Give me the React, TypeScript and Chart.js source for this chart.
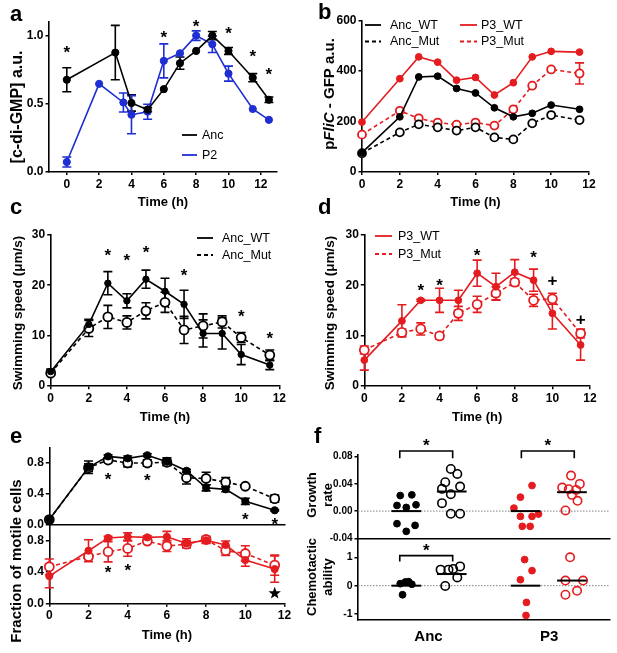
import React, { useEffect, useRef } from 'react';
import { Chart, registerables } from 'chart.js';

Chart.register(...registerables);

const PAGE_W = 617;
const PAGE_H = 653;
const FONT = '"Liberation Sans", Arial, Helvetica, sans-serif';
const INK = '#000000';
const BLUE = '#1f2ed2';
const RED = '#e41c1f';

// ---------------- data ----------------
// panel a
const aHoursAnc = [0, 3, 4, 5, 6, 7, 8, 9, 10, 11.5, 12.5];
const aAnc = [0.675, 0.875, 0.504, 0.455, 0.606, 0.797, 0.887, 1.0, 0.887, 0.69, 0.528];
const aAncErr = [0.088, 0.2, 0.06, 0.015, 0, 0.045, 0, 0.03, 0.025, 0.03, 0.02];
const aHoursP2 = [0, 2, 3.5, 4, 5, 6, 7, 8, 9, 10, 11.5, 12.5];
const aP2 = [0.07, 0.645, 0.508, 0.418, 0.44, 0.814, 0.87, 1.0, 0.936, 0.72, 0.46, 0.38];
const aP2Err = [0.037, 0, 0.07, 0.14, 0.055, 0.125, 0, 0.035, 0.06, 0.055, 0, 0];
const aSigHours = [0, 6, 8, 10, 11.5, 12.5];
const aSigLevel = [0.91, 1.02, 1.095, 1.046, 0.88, 0.745];

// shared time points (b-e)
const hours = [0, 2, 3, 4, 5, 6, 7, 8, 9, 10, 11.5];

// panel b
const bAncWT = [75, 218, 377, 380, 331, 313, 254, 218, 232, 265, 248];
const bAncMut = [73, 156, 188, 176, 163, 176, 136, 128, 192, 225, 205];
const bP3WT = [197, 370, 457, 436, 364, 375, 305, 354, 457, 479, 476];
const bP3Mut = [147, 242, 212, 195, 187, 195, 183, 248, 342, 407, 391];
const bP3MutErr = [0, 0, 0, 0, 0, 0, 0, 0, 0, 0, 42];

// panel c
const cAncWT = [2.8, 12.2, 20.4, 16.9, 21.2, 18.8, 16.2, 10.4, 10.4, 6.2, 4.1];
const cAncWTErr = [0.5, 1.0, 2.3, 1.4, 1.8, 2.6, 2.8, 2.7, 3.1, 2.0, 0.9];
const cAncMut = [2.5, 11.4, 13.7, 12.6, 14.9, 16.6, 11.1, 11.9, 12.7, 9.6, 6.1];
const cAncMutErr = [0.4, 1.6, 2.3, 1.3, 1.6, 2.0, 2.7, 2.4, 1.2, 1.0, 1.0];
const cSigHours = [3, 4, 5, 7, 10, 11.5];
const cSigLevel = [26.8, 25.7, 27.3, 22.7, 14.7, 10.2];

// panel d
const dP3WT = [5.1, 12.9, 17.0, 17.0, 17.0, 22.4, 19.7, 22.6, 21.0, 14.4, 8.1];
const dP3WTErr = [2.0, 3.2, 0.2, 2.4, 2.0, 2.6, 2.7, 2.5, 2.2, 3.1, 3.0];
const dP3Mut = [7.1, 10.6, 11.3, 9.9, 14.4, 16.2, 18.4, 20.6, 17.0, 17.3, 10.4];
const dP3MutErr = [0.8, 0.7, 1.2, 0.6, 1.4, 1.6, 1.3, 0.7, 1.2, 1.1, 0.9];
const dSigHours = [3, 4, 6, 9];
const dSigLevel = [19.7, 20.7, 26.7, 26.3];
const dPlusHours = [10, 11.5];
const dPlusLevel = [21.0, 13.4];

// panel e
const eAncWT = [0.07, 0.745, 0.885, 0.86, 0.9, 0.817, 0.7, 0.48, 0.46, 0.306, 0.19];
const eAncWTErr = [0, 0.08, 0.02, 0.03, 0.02, 0.05, 0.02, 0.04, 0.03, 0.04, 0.01];
const eAncMut = [0.07, 0.74, 0.838, 0.8, 0.8, 0.81, 0.61, 0.6, 0.553, 0.5, 0.34];
const eAncMutErr = [0, 0.05, 0.03, 0.05, 0.04, 0.04, 0.08, 0.08, 0.06, 0.02, 0.045];
const eAncSigHours = [3, 5, 10, 11.5];
const eAncSigLevel = [0.638, 0.63, 0.128, 0.064];
const eP3WT = [0.35, 0.676, 0.84, 0.855, 0.847, 0.855, 0.77, 0.81, 0.75, 0.556, 0.44];
const eP3WTErr = [0.15, 0.14, 0.02, 0.05, 0.02, 0.07, 0.06, 0.04, 0.05, 0.08, 0.17];
const eP3Mut = [0.47, 0.6, 0.663, 0.705, 0.8, 0.736, 0.76, 0.82, 0.676, 0.64, 0.49];
const eP3MutErr = [0.1, 0.03, 0.13, 0.1, 0.02, 0.07, 0.04, 0.04, 0.06, 0.1, 0.13];
const eP3SigHours = [3, 4];
const eP3SigLevel = [0.449, 0.47];
const eP3StarHours = [11.5];
const eP3StarLevel = [0.128];

// panel f (column scatter; x = group position with jitter)
const fGroupCenters = [1.02, 2.0, 3.59, 4.59];
const fGroupLabels = ['Anc', 'P3'];
const fGroupLabelPos = [1.5, 4.1];
const fGrowAncWTx = [0.89, 1.14, 0.82, 1.02, 1.23, 0.82, 1.21, 1.02];
const fGrowAncWT = [0.0229, 0.0239, 0.0083, 0.0054, 0.0093, -0.0185, -0.021, -0.0298];
const fGrowAncMutx = [1.98, 2.12, 1.86, 1.79, 2.18, 1.98, 1.79, 1.98, 2.18];
const fGrowAncMut = [0.062, 0.0546, 0.0424, 0.0327, 0.0361, 0.0249, 0.0117, -0.0039, -0.0039];
const fGrowP3WTx = [3.73, 3.48, 3.34, 3.48, 3.73, 3.87, 3.52, 3.69];
const fGrowP3WT = [0.0376, 0.0205, 0.0044, -0.0078, -0.0078, -0.0044, -0.0224, -0.0224];
const fGrowP3Mutx = [4.57, 4.76, 4.38, 4.52, 4.68, 4.59, 4.71, 4.45];
const fGrowP3Mut = [0.0522, 0.04, 0.0346, 0.0322, 0.0312, 0.0239, 0.0151, 0.001];
const fGrowMedian = [0.0, 0.0288, 0.0, 0.0278];
const fChemAncWTx = [0.89, 1.0, 1.07, 1.14, 0.94];
const fChemAncWT = [0.07, 0.13, 0.14, 0.05, -0.32];
const fChemAncMutx = [1.76, 1.93, 2.03, 2.18, 2.12, 1.86];
const fChemAncMut = [0.565, 0.565, 0.59, 0.68, 0.29, -0.01];
const fChemP3WTx = [3.57, 3.73, 3.48, 3.61, 3.6];
const fChemP3WT = [0.92, 0.53, 0.21, -0.59, -1.05];
const fChemP3Mutx = [4.55, 4.45, 4.83, 4.7, 4.45];
const fChemP3Mut = [1.0, 0.18, 0.18, -0.18, -0.32];
const fChemMedian = [0.0, 0.41, 0.0, 0.18];

// ---------------- helpers ----------------
type Area = { L: number; T: number; R: number; B: number };
type Seg = { t: string; italic?: boolean };
type Mark = { x: number; y: number; text: string; size: number; lift: number };
type Bracket = { x1: number; x2: number; y: number; leg: number; sig: number };
type LegendItem = { ds: number; x1: number; x2: number; y: number; tx: number };
type Deco = {
  letter?: { text: string; px: number; py: number };
  yTitle?: { lines: Seg[][]; px: number; py: number; gap: number; size: number };
  legend?: LegendItem[];
  marks?: Mark[];
  stars?: { x: number; y: number }[];
  brackets?: Bracket[];
  zeroLine?: boolean;
};

const pts = (xs: number[], ys: number[]) => xs.map((x, i) => ({ x, y: ys[i] }));
const marksOf = (xs: number[], ys: number[], text: string, size = 17) =>
  xs.map((x, i) => ({ x, y: ys[i], text, size, lift: text === '+' ? 0.36 : 0.57 }));

function lineSeries(label: string, xs: number[], ys: number[], errs: number[] | null, color: string, open: boolean, dashed: boolean, r: number, ro: number) {
  return {
    type: 'line',
    label,
    data: pts(xs, ys),
    errors: errs,
    borderColor: color,
    backgroundColor: color,
    borderWidth: 1.6,
    borderDash: dashed ? [4, 3] : [],
    pointStyle: 'circle',
    pointRadius: open ? ro : r,
    pointBorderWidth: open ? 1.8 : 1,
    pointBackgroundColor: open ? '#ffffff' : color,
    pointBorderColor: color,
    tension: 0,
    fill: false,
    clip: false,
  };
}

function dots(label: string, xs: number[], ys: number[], color: string, open: boolean) {
  return {
    type: 'scatter',
    label,
    data: pts(xs, ys),
    showLine: false,
    pointStyle: 'circle',
    pointRadius: open ? 4.2 : 3.4,
    pointBorderWidth: open ? 1.6 : 1,
    pointBackgroundColor: open ? 'rgba(255,255,255,0)' : color,
    pointBorderColor: color,
    clip: false,
  };
}

function medianBars(levels: number[]) {
  return levels.map((m, i) => ({
    type: 'line',
    label: 'median',
    data: [
      { x: fGroupCenters[i] - 0.32, y: m },
      { x: fGroupCenters[i] + 0.32, y: m },
    ],
    borderColor: INK,
    borderWidth: 2,
    pointRadius: 0,
    showLine: true,
    clip: false,
  }));
}

function drawStar(ctx: CanvasRenderingContext2D, cx: number, cy: number, R: number, r: number) {
  ctx.beginPath();
  for (let k = 0; k < 10; k++) {
    const ang = -Math.PI / 2 + (k * Math.PI) / 5;
    const rad = k % 2 === 0 ? R : r;
    const x = cx + rad * Math.cos(ang);
    const y = cy + rad * Math.sin(ang);
    if (k === 0) ctx.moveTo(x, y);
    else ctx.lineTo(x, y);
  }
  ctx.closePath();
  ctx.fill();
}

function paperPlugin(deco: Deco) {
  return {
    id: 'paper',
    beforeDatasetsDraw(chart: any) {
      const ctx: CanvasRenderingContext2D = chart.ctx;
      const ys = chart.scales.y;
      ctx.save();
      if (deco.zeroLine) {
        const y0 = ys.getPixelForValue(0);
        ctx.strokeStyle = '#808080';
        ctx.lineWidth = 1;
        ctx.setLineDash([1.5, 1.5]);
        ctx.beginPath();
        ctx.moveTo(chart.chartArea.left, y0);
        ctx.lineTo(chart.chartArea.right, y0);
        ctx.stroke();
        ctx.setLineDash([]);
      }
      chart.data.datasets.forEach((ds: any, i: number) => {
        if (!ds.errors) return;
        const meta = chart.getDatasetMeta(i);
        ctx.strokeStyle = ds.borderColor;
        ctx.lineWidth = 1.6;
        ds.data.forEach((p: any, j: number) => {
          const e = ds.errors[j];
          if (!e) return;
          const x = meta.data[j].x;
          const yt = ys.getPixelForValue(p.y + e);
          const yb = ys.getPixelForValue(p.y - e);
          ctx.beginPath();
          ctx.moveTo(x, yt);
          ctx.lineTo(x, yb);
          ctx.moveTo(x - 4.5, yt);
          ctx.lineTo(x + 4.5, yt);
          ctx.moveTo(x - 4.5, yb);
          ctx.lineTo(x + 4.5, yb);
          ctx.stroke();
        });
      });
      ctx.restore();
    },
    afterDatasetsDraw(chart: any) {
      const ctx: CanvasRenderingContext2D = chart.ctx;
      const xs = chart.scales.x;
      const ys = chart.scales.y;
      ctx.save();
      ctx.fillStyle = INK;
      ctx.strokeStyle = INK;
      (deco.marks || []).forEach((m) => {
        ctx.font = `bold ${m.size}px ${FONT}`;
        ctx.textAlign = 'center';
        ctx.textBaseline = 'alphabetic';
        ctx.fillText(m.text, xs.getPixelForValue(m.x), ys.getPixelForValue(m.y) + m.lift * m.size);
      });
      (deco.stars || []).forEach((s) => {
        drawStar(ctx, xs.getPixelForValue(s.x), ys.getPixelForValue(s.y), 6.5, 2.7);
      });
      (deco.brackets || []).forEach((b) => {
        const x1 = xs.getPixelForValue(b.x1);
        const x2 = xs.getPixelForValue(b.x2);
        const y = ys.getPixelForValue(b.y);
        const yl = ys.getPixelForValue(b.leg);
        ctx.lineWidth = 1.6;
        ctx.beginPath();
        ctx.moveTo(x1, yl);
        ctx.lineTo(x1, y);
        ctx.lineTo(x2, y);
        ctx.lineTo(x2, yl);
        ctx.stroke();
        ctx.font = `bold 17px ${FONT}`;
        ctx.textAlign = 'center';
        ctx.textBaseline = 'alphabetic';
        ctx.fillText('*', (x1 + x2) / 2, ys.getPixelForValue(b.sig) + 0.57 * 17);
      });
      (deco.legend || []).forEach((it) => {
        const ds = chart.data.datasets[it.ds];
        ctx.strokeStyle = ds.borderColor;
        ctx.lineWidth = 1.8;
        ctx.setLineDash(ds.borderDash && ds.borderDash.length ? [4, 3] : []);
        ctx.beginPath();
        ctx.moveTo(it.x1, it.y);
        ctx.lineTo(it.x2, it.y);
        ctx.stroke();
        ctx.setLineDash([]);
        ctx.fillStyle = INK;
        ctx.font = `12.5px ${FONT}`;
        ctx.textAlign = 'left';
        ctx.textBaseline = 'middle';
        ctx.fillText(ds.label, it.tx, it.y + 0.5);
      });
      ctx.restore();
    },
    afterDraw(chart: any) {
      const ctx: CanvasRenderingContext2D = chart.ctx;
      ctx.save();
      ctx.fillStyle = INK;
      if (deco.yTitle) {
        const yt = deco.yTitle;
        yt.lines.forEach((segs, k) => {
          ctx.save();
          ctx.translate(yt.px + k * yt.gap, yt.py);
          ctx.rotate(-Math.PI / 2);
          ctx.textBaseline = 'middle';
          ctx.textAlign = 'left';
          const fontOf = (s: Seg) => `${s.italic ? 'italic ' : ''}bold ${yt.size}px ${FONT}`;
          const widths = segs.map((s) => {
            ctx.font = fontOf(s);
            return ctx.measureText(s.t).width;
          });
          let x = -widths.reduce((a, b) => a + b, 0) / 2;
          segs.forEach((s, i) => {
            ctx.font = fontOf(s);
            ctx.fillText(s.t, x, 0);
            x += widths[i];
          });
          ctx.restore();
        });
      }
      if (deco.letter) {
        ctx.font = `bold 22px ${FONT}`;
        ctx.textAlign = 'left';
        ctx.textBaseline = 'alphabetic';
        ctx.fillText(deco.letter.text, deco.letter.px, deco.letter.py);
      }
      ctx.restore();
    },
  };
}

type AxisSpec = {
  area: Area;
  xRange: [number, number];
  yRange: [number, number];
  xTicks: number[];
  yTicks: number[];
  xLabel: (v: number) => string;
  yLabel: (v: number) => string;
  showXTicks: boolean;
  xTickMarks: boolean;
  xTitleY?: number;
  xTickFont?: number;
  yTickFont?: number;
  xTickPad?: number;
};

function buildOptions(spec: AxisSpec): any {
  const { area } = spec;
  const tickFont = { family: FONT, size: 12, weight: 'bold' };
  return {
    responsive: false,
    maintainAspectRatio: false,
    animation: false,
    events: [],
    layout: { padding: { left: 0, top: area.T, right: PAGE_W - area.R, bottom: 0 } },
    plugins: { legend: { display: false }, tooltip: { enabled: false }, title: { display: false } },
    scales: {
      x: {
        type: 'linear',
        min: spec.xRange[0],
        max: spec.xRange[1],
        afterBuildTicks: (s: any) => {
          s.ticks = spec.xTicks.map((v) => ({ value: v }));
        },
        afterFit: (s: any) => {
          s.height = PAGE_H - area.B;
        },
        grid: {
          display: true,
          drawOnChartArea: false,
          drawTicks: true,
          tickLength: spec.xTickMarks ? 3.5 : 0,
          color: INK,
          tickColor: spec.xTickMarks ? INK : 'rgba(0,0,0,0)',
          lineWidth: 1.5,
        },
        border: { display: true, color: INK, width: 1.6 },
        ticks: {
          display: spec.showXTicks,
          autoSkip: false,
          maxRotation: 0,
          minRotation: 0,
          padding: spec.xTickPad ?? 2,
          color: INK,
          font: { ...tickFont, size: spec.xTickFont ?? 12 },
          callback: (v: any) => spec.xLabel(Number(v)),
        },
        title: spec.xTitleY
          ? {
              display: true,
              text: 'Time (h)',
              color: INK,
              font: { family: FONT, size: 13, weight: 'bold', lineHeight: 1.2 },
              padding: { top: 0, bottom: PAGE_H - spec.xTitleY - 7.8 },
            }
          : { display: false },
      },
      y: {
        type: 'linear',
        min: spec.yRange[0],
        max: spec.yRange[1],
        afterBuildTicks: (s: any) => {
          s.ticks = spec.yTicks.map((v) => ({ value: v }));
        },
        afterFit: (s: any) => {
          s.width = area.L;
        },
        grid: { display: true, drawOnChartArea: false, drawTicks: true, tickLength: 3.5, color: INK, lineWidth: 1.5 },
        border: { display: true, color: INK, width: 1.6 },
        ticks: {
          autoSkip: false,
          padding: 2,
          color: INK,
          font: { ...tickFont, size: spec.yTickFont ?? 12 },
          callback: (v: any) => spec.yLabel(Number(v)),
        },
        title: { display: false },
      },
    },
  };
}

const hourTicks = [0, 2, 4, 6, 8, 10, 12];
const intLabel = (v: number) => String(Math.round(v));

// ---------------- panels ----------------
function configA(): any {
  const datasets = [
    lineSeries('Anc', aHoursAnc, aAnc, aAncErr, INK, false, false, 3.6, 4),
    lineSeries('P2', aHoursP2, aP2, aP2Err, BLUE, false, false, 3.6, 4),
  ];
  const options = buildOptions({
    area: { L: 49, T: 22, R: 277, B: 171.5 },
    xRange: [-1.1, 13],
    yRange: [0, 1.1],
    xTicks: hourTicks,
    yTicks: [0, 0.5, 1.0],
    xLabel: intLabel,
    yLabel: (v) => v.toFixed(1),
    showXTicks: true,
    xTickMarks: true,
    xTitleY: 202,
  });
  const deco: Deco = {
    letter: { text: 'a', px: 10, py: 21 },
    yTitle: { lines: [[{ t: '[c-di-GMP] a.u.' }]], px: 17.5, py: 107, gap: 0, size: 16 },
    legend: [
      { ds: 0, x1: 182, x2: 197, y: 135, tx: 202 },
      { ds: 1, x1: 182, x2: 197, y: 155, tx: 202 },
    ],
    marks: marksOf(aSigHours, aSigLevel, '*'),
  };
  return { type: 'line', data: { datasets }, options, plugins: [paperPlugin(deco)] };
}

function configB(): any {
  const datasets = [
    lineSeries('Anc_WT', hours, bAncWT, null, INK, false, false, 3.4, 4),
    lineSeries('Anc_Mut', hours, bAncMut, null, INK, true, true, 3.4, 4),
    lineSeries('P3_WT', hours, bP3WT, null, RED, false, false, 3.4, 4),
    lineSeries('P3_Mut', hours, bP3Mut, bP3MutErr, RED, true, true, 3.4, 4),
  ];
  const options = buildOptions({
    area: { L: 362, T: 21, R: 589, B: 171.5 },
    xRange: [0, 12],
    yRange: [0, 600],
    xTicks: hourTicks,
    yTicks: [0, 200, 400, 600],
    xLabel: intLabel,
    yLabel: intLabel,
    showXTicks: true,
    xTickMarks: true,
    xTitleY: 202,
  });
  const deco: Deco = {
    letter: { text: 'b', px: 318, py: 19 },
    yTitle: { lines: [[{ t: 'p' }, { t: 'FliC', italic: true }, { t: ' - GFP a.u.' }]], px: 330, py: 94, gap: 0, size: 15 },
    legend: [
      { ds: 0, x1: 365, x2: 381, y: 25, tx: 390 },
      { ds: 1, x1: 365, x2: 381, y: 41.5, tx: 390 },
      { ds: 2, x1: 460, x2: 477, y: 25, tx: 481 },
      { ds: 3, x1: 460, x2: 477, y: 41.5, tx: 481 },
    ],
  };
  return { type: 'line', data: { datasets }, options, plugins: [paperPlugin(deco)] };
}

function configC(): any {
  const datasets = [
    lineSeries('Anc_WT', hours, cAncWT, cAncWTErr, INK, false, false, 3.2, 4.5),
    lineSeries('Anc_Mut', hours, cAncMut, cAncMutErr, INK, true, true, 3.2, 4.5),
  ];
  const options = buildOptions({
    area: { L: 50.7, T: 235, R: 279.3, B: 385.7 },
    xRange: [0, 12],
    yRange: [0, 30],
    xTicks: hourTicks,
    yTicks: [0, 10, 20, 30],
    xLabel: intLabel,
    yLabel: intLabel,
    showXTicks: true,
    xTickMarks: true,
    xTitleY: 417,
  });
  const deco: Deco = {
    letter: { text: 'c', px: 10, py: 214 },
    yTitle: { lines: [[{ t: 'Swimming speed (\u03bcm/s)' }]], px: 18.3, py: 313, gap: 0, size: 13.5 },
    legend: [
      { ds: 0, x1: 197, x2: 213, y: 238, tx: 222 },
      { ds: 1, x1: 197, x2: 213, y: 255, tx: 222 },
    ],
    marks: marksOf(cSigHours, cSigLevel, '*'),
  };
  return { type: 'line', data: { datasets }, options, plugins: [paperPlugin(deco)] };
}

function configD(): any {
  const datasets = [
    lineSeries('P3_WT', hours, dP3WT, dP3WTErr, RED, false, false, 3.4, 4.5),
    lineSeries('P3_Mut', hours, dP3Mut, dP3MutErr, RED, true, true, 3.4, 4.5),
  ];
  const options = buildOptions({
    area: { L: 364.3, T: 235, R: 590, B: 385.7 },
    xRange: [0, 12],
    yRange: [0, 30],
    xTicks: hourTicks,
    yTicks: [0, 10, 20, 30],
    xLabel: intLabel,
    yLabel: intLabel,
    showXTicks: true,
    xTickMarks: true,
    xTitleY: 417,
  });
  const deco: Deco = {
    letter: { text: 'd', px: 318, py: 214 },
    yTitle: { lines: [[{ t: 'Swimming speed (\u03bcm/s)' }]], px: 330, py: 313, gap: 0, size: 13.5 },
    legend: [
      { ds: 0, x1: 375, x2: 392, y: 236, tx: 398 },
      { ds: 1, x1: 375, x2: 392, y: 254, tx: 398 },
    ],
    marks: [...marksOf(dSigHours, dSigLevel, '*'), ...marksOf(dPlusHours, dPlusLevel, '+', 17)],
  };
  return { type: 'line', data: { datasets }, options, plugins: [paperPlugin(deco)] };
}

function configETop(): any {
  const datasets = [
    lineSeries('Anc_WT', hours, eAncWT, eAncWTErr, INK, false, false, 3.6, 4.5),
    lineSeries('Anc_Mut', hours, eAncMut, eAncMutErr, INK, true, true, 3.6, 4.5),
  ];
  const options = buildOptions({
    area: { L: 49.3, T: 447.5, R: 284.5, B: 525 },
    xRange: [0, 12],
    yRange: [0, 1.0],
    xTicks: hourTicks,
    yTicks: [0, 0.4, 0.8],
    xLabel: intLabel,
    yLabel: (v) => v.toFixed(1),
    showXTicks: false,
    xTickMarks: false,
  });
  const deco: Deco = {
    letter: { text: 'e', px: 10, py: 443 },
    yTitle: { lines: [[{ t: 'Fraction of motile cells' }]], px: 16.7, py: 561, gap: 0, size: 15 },
    marks: marksOf(eAncSigHours, eAncSigLevel, '*'),
  };
  return { type: 'line', data: { datasets }, options, plugins: [paperPlugin(deco)] };
}

function configEBottom(): any {
  const datasets = [
    lineSeries('P3_WT', hours, eP3WT, eP3WTErr, RED, false, false, 3.6, 4.5),
    lineSeries('P3_Mut', hours, eP3Mut, eP3MutErr, RED, true, true, 3.6, 4.5),
  ];
  const options = buildOptions({
    area: { L: 49.3, T: 525.5, R: 284.5, B: 603.3 },
    xRange: [0, 12],
    yRange: [0, 1.0],
    xTicks: hourTicks,
    yTicks: [0, 0.4, 0.8],
    xLabel: intLabel,
    yLabel: (v) => v.toFixed(1),
    showXTicks: true,
    xTickMarks: true,
    xTitleY: 635,
  });
  const deco: Deco = {
    marks: marksOf(eP3SigHours, eP3SigLevel, '*'),
    stars: pts(eP3StarHours, eP3StarLevel),
  };
  return { type: 'line', data: { datasets }, options, plugins: [paperPlugin(deco)] };
}

const F_AREA_L = 358;
const F_X_RANGE: [number, number] = [-0.02, 5.41];

function configFTop(): any {
  const datasets = [
    ...medianBars(fGrowMedian),
    dots('Anc WT', fGrowAncWTx, fGrowAncWT, INK, false),
    dots('Anc Mut', fGrowAncMutx, fGrowAncMut, INK, true),
    dots('P3 WT', fGrowP3WTx, fGrowP3WT, RED, false),
    dots('P3 Mut', fGrowP3Mutx, fGrowP3Mut, RED, true),
  ];
  const options = buildOptions({
    area: { L: F_AREA_L, T: 455, R: 610, B: 538.3 },
    xRange: F_X_RANGE,
    yRange: [-0.04, 0.0825],
    xTicks: fGroupLabelPos,
    yTicks: [-0.04, 0, 0.04, 0.08],
    xLabel: () => '',
    yLabel: (v) => (Math.abs(v) < 1e-9 ? '0.00' : v.toFixed(2)),
    showXTicks: false,
    xTickMarks: false,
    yTickFont: 10,
  });
  const deco: Deco = {
    letter: { text: 'f', px: 314, py: 443 },
    yTitle: { lines: [[{ t: 'Growth' }], [{ t: 'rate' }]], px: 312, py: 495, gap: 16.3, size: 13 },
    zeroLine: true,
    brackets: [
      { x1: 0.88, x2: 2.02, y: 0.0884, leg: 0.0776, sig: 0.102 },
      { x1: 3.5, x2: 4.64, y: 0.0884, leg: 0.0776, sig: 0.102 },
    ],
  };
  return { type: 'scatter', data: { datasets }, options, plugins: [paperPlugin(deco)] };
}

function configFBottom(): any {
  const datasets = [
    ...medianBars(fChemMedian),
    dots('Anc WT', fChemAncWTx, fChemAncWT, INK, false),
    dots('Anc Mut', fChemAncMutx, fChemAncMut, INK, true),
    dots('P3 WT', fChemP3WTx, fChemP3WT, RED, false),
    dots('P3 Mut', fChemP3Mutx, fChemP3Mut, RED, true),
  ];
  const options = buildOptions({
    area: { L: F_AREA_L, T: 538.3, R: 610, B: 620 },
    xRange: F_X_RANGE,
    yRange: [-1.21, 1.67],
    xTicks: fGroupLabelPos,
    yTicks: [-1, 0, 1],
    xLabel: (v) => {
      const i = fGroupLabelPos.findIndex((p) => Math.abs(p - v) < 1e-6);
      return i >= 0 ? fGroupLabels[i] : '';
    },
    yLabel: intLabel,
    showXTicks: true,
    xTickMarks: false,
    xTickFont: 15,
    xTickPad: 7.7,
    yTickFont: 10.5,
  });
  const deco: Deco = {
    yTitle: { lines: [[{ t: 'Chemotactic' }], [{ t: 'ability' }]], px: 312, py: 577, gap: 16.3, size: 13 },
    zeroLine: true,
    brackets: [{ x1: 0.88, x2: 2.02, y: 1.06, leg: 0.85, sig: 1.38 }],
  };
  return { type: 'scatter', data: { datasets }, options, plugins: [paperPlugin(deco)] };
}

const PANELS = [configA, configB, configC, configD, configETop, configEBottom, configFTop, configFBottom];

function Layer({ make }: { make: () => any }) {
  const ref = useRef<HTMLCanvasElement | null>(null);
  useEffect(() => {
    if (!ref.current) return;
    const chart = new Chart(ref.current, make());
    return () => chart.destroy();
  }, [make]);
  return (
    <canvas
      ref={ref}
      width={PAGE_W}
      height={PAGE_H}
      style={{ position: 'absolute', left: 0, top: 0, width: PAGE_W, height: PAGE_H }}
    />
  );
}

export default function App() {
  return (
    <div
      style={{
        position: 'absolute',
        left: 0,
        top: 0,
        width: PAGE_W,
        height: PAGE_H,
        background: '#ffffff',
        overflow: 'hidden',
      }}
    >
      {PANELS.map((make, i) => (
        <Layer key={i} make={make} />
      ))}
    </div>
  );
}
